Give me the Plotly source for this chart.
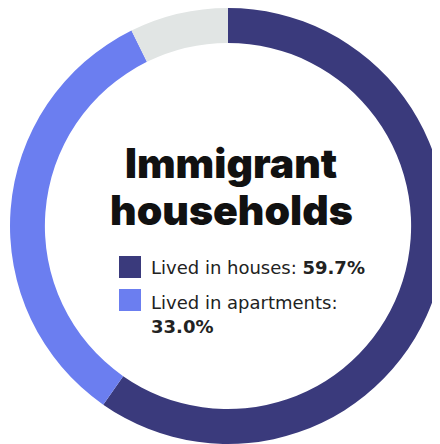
import plotly.graph_objects as go

labels = ["Lived in houses", "Lived in apartments", "Other"]
values = [59.7, 33.0, 7.3]
colors = ["#3a3a7c", "#6b7ef0", "#e1e5e4"]
title_lines = ["Immigrant", "households"]

W, H = 440, 444
OX, OY = 8, 8  # page body offset

def px(x):
    return (x - OX) / W

def py(y):
    return 1 - (y - OY) / H

fig = go.Figure(go.Pie(
    labels=labels, values=values, hole=0.84, sort=False, direction="clockwise",
    rotation=0, marker=dict(colors=colors, line=dict(width=0)),
    textinfo="none", hoverinfo="label+percent", showlegend=False,
    domain=dict(x=[0, 1], y=[8 / H, 1]),
))

font_title = "Inter, Lato, sans-serif"
font_body = "DejaVu Sans, sans-serif"
for line, yc in zip(title_lines, [163, 210]):
    fig.add_annotation(x=px(231), y=py(yc), xref="paper", yref="paper",
                       text=line, showarrow=False,
                       font=dict(family=font_title, size=41, color="#111111", weight=900))

# legend squares
sq = [(119, 256), (119, 289)]
for (x0, y0), c in zip(sq, colors[:2]):
    fig.add_shape(type="rect", xref="paper", yref="paper",
                  x0=px(x0), x1=px(x0 + 22), y0=py(y0 + 22), y1=py(y0),
                  fillcolor=c, line=dict(width=0))

fig.add_annotation(x=px(149), y=py(267), xref="paper", yref="paper", xanchor="left",
                   text=f"{labels[0]}: <b>{values[0]:.1f}%</b>", showarrow=False,
                   font=dict(family=font_body, size=18, color="#222222"))
fig.add_annotation(x=px(149), y=py(302), xref="paper", yref="paper", xanchor="left",
                   text=f"{labels[1]}:", showarrow=False,
                   font=dict(family=font_body, size=18, color="#222222"))
fig.add_annotation(x=px(149), y=py(339), xref="paper", yref="paper", xanchor="left",
                   text=f"{values[1]:.1f}%", showarrow=False,
                   font=dict(family=font_body, size=18, color="#222222", weight=700))

fig.update_layout(width=W, height=H, margin=dict(l=0, r=0, t=0, b=0),
                  paper_bgcolor="white", plot_bgcolor="white")
fig.write_html("out.html")
